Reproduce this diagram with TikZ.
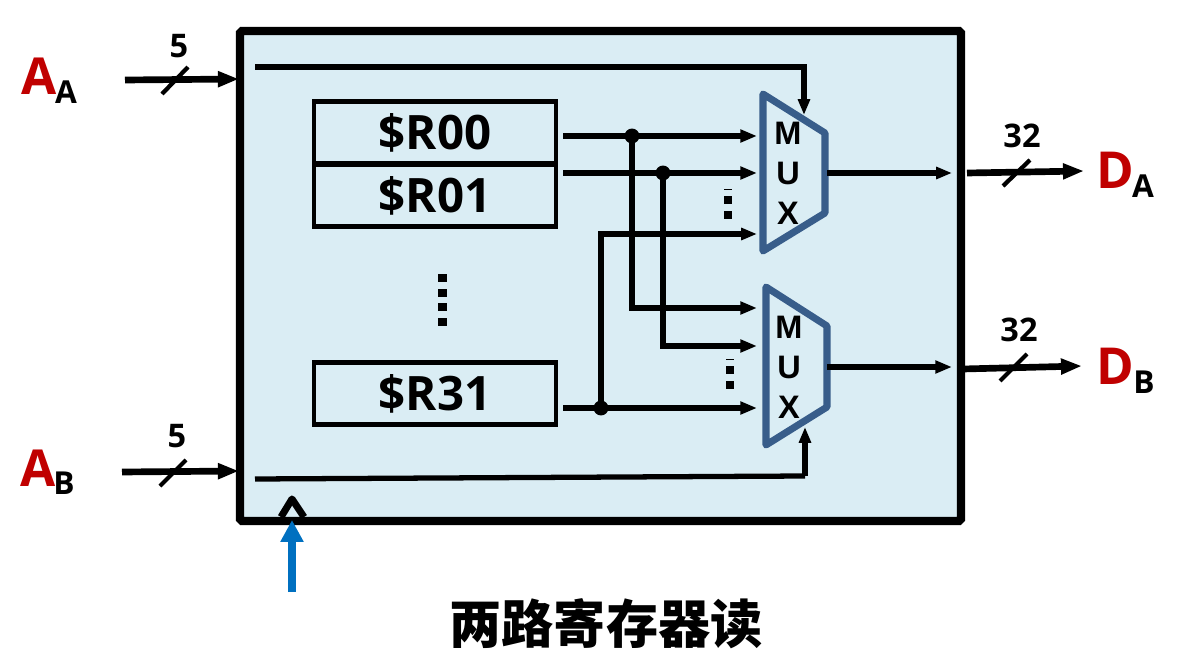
\documentclass[tikz,border=0pt]{standalone}
\usepackage{fontspec}
\setmainfont{Open Sans}
\newfontfamily\muxfont{Liberation Sans}
\newfontfamily\cjk{Noto Sans CJK SC}
\usetikzlibrary{arrows.meta}
\definecolor{regfill}{HTML}{DAEDF4}
\definecolor{muxblue}{HTML}{385D8A}
\definecolor{sigred}{HTML}{C00000}
\definecolor{clkblue}{HTML}{0070C0}
\tikzset{
	wire/.style={line width=3.7pt,-{Triangle[length=9.5pt,width=7pt]}},
	thinwire/.style={line width=3pt,-{Triangle[length=9pt,width=6.6pt]}},
	buswire/.style={line width=3.8pt,-{Triangle[length=12pt,width=8.5pt]}},
	plainwire/.style={line width=3pt},
	slash/.style={line width=2.4pt},
	regbox/.style={draw,line width=2.5pt,minimum width=138pt,minimum height=35.5pt,inner sep=0pt,font=\fontsize{27}{27}\selectfont\bfseries},
	muxshape/.style={draw=muxblue,line width=4pt,line join=round},
	muxtext/.style={font=\muxfont\fontsize{18.5}{18.5}\selectfont\bfseries,inner sep=0pt},
	dot/.style={circle,fill,inner sep=0pt,minimum size=8.5pt},
	buswidth/.style={font=\fontsize{18.5}{18.5}\selectfont\bfseries,inner sep=0pt},
	signame/.style={font=\fontsize{29}{29}\selectfont\bfseries,text=sigred,inner sep=0pt},
	sigsub/.style={font=\fontsize{18}{18}\selectfont\bfseries,inner sep=0pt}
}
\begin{document}
\begin{tikzpicture}[x=0.02cm,y=-0.02cm]
	\useasboundingbox (0,0) rectangle (1178,669);

	% outer block
	\draw[line width=4.6pt,fill=regfill,rounded corners=1pt] (240,31) rectangle (961,521);

	% registers
	\node[regbox] (R00) at (435,132.5) {\$R00};
	\node[regbox] (R01) at (435,195.5) {\$R01};
	\node[regbox] (R31) at (435,393.5) {\$R31};
	\foreach \y in {274.5,289,303.5,318}
		\fill (438,\y) rectangle (447,\y+8);

	% mux
	\draw[muxshape] (763,94) -- (825,133) -- (825,213) -- (763,251) -- cycle;
	\draw[muxshape] (766,287) -- (827,326) -- (827,407) -- (766,445) -- cycle;
	\node[muxtext] (muxAm) at (788,133) {M};
	\node[muxtext] (muxAu) at (788,173) {U};
	\node[muxtext] (muxAx) at (788,213) {X};
	\node[muxtext] (muxBm) at (789,327) {M};
	\node[muxtext] (muxBu) at (789,367) {U};
	\node[muxtext] (muxBx) at (789,407) {X};
	\foreach \x/\yy in {728/0,730/170}{
		\fill (\x-4,196+\yy) rectangle (\x+4,204+\yy);
		\fill (\x-4,211+\yy) rectangle (\x+4,219+\yy);
		\fill (\x-4,189+\yy) rectangle (\x+4,190+\yy);
	}

	% inputs of the muxes
	\coordinate (inA0) at (757,136);
	\coordinate (inA1) at (757,173);
	\coordinate (inA2) at (757,234);
	\coordinate (inB0) at (757,308);
	\coordinate (inB1) at (757,346);
	\coordinate (inB2) at (757,408);
	\coordinate (out00) at (563,136);
	\coordinate (out01) at (563,173);
	\coordinate (out31) at (563,408);
	\node[dot] (j00) at (632,136) {};
	\node[dot] (j01) at (663,173) {};
	\node[dot] (j31) at (601,408) {};

	\draw[wire] (out00) -- (inA0);
	\draw[wire] (out01) -- (inA1);
	\draw[wire] (out31) -- (inB2);
	\draw[thinwire] (j31.center) |- (inA2);
	\draw[wire] (j00.center) |- (inB0);
	\draw[wire] (j01.center) |- (inB1);

	% select lines
	\coordinate (selA) at (255,67);
	\coordinate (selAt) at (804,115);
	\coordinate (selB) at (255,479);
	\coordinate (selBk) at (805,476);
	\coordinate (selBt) at (805,427);
	\draw[thinwire] (selA) -| (selAt);
	\draw[plainwire] (selB) -- (selBk);
	\draw[thinwire] (selBk) -- (selBt);

	% outputs
	\coordinate (outA) at (827,173);
	\coordinate (outAe) at (952,173);
	\coordinate (outB) at (827,367);
	\coordinate (outBe) at (952,367);
	\draw[thinwire] (outA) -- (outAe);
	\draw[wire,line width=3.2pt] (outB) -- (outBe);

	% left side
	\node[signame] (AA) at (39,76) {A};
	\node[sigsub] (AAs) at (66,92) {A};
	\node[signame] (AB) at (38,468) {A};
	\node[sigsub] (ABs) at (64,483) {B};
	\coordinate (inAs) at (125,80);
	\coordinate (inAe) at (239,79);
	\coordinate (inBs) at (122,472);
	\coordinate (inBe) at (239,471);
	\draw[buswire] (inAs) -- (inAe);
	\draw[buswire] (inBs) -- (inBe);
	\draw[slash] (162,94) -- (188,67);
	\draw[slash] (160,486) -- (186,460);
	\node[buswidth] (wA) at (179,46) {5};
	\node[buswidth] (wB) at (177,436) {5};

	% right side
	\node[signame] (DA) at (1115,170) {D};
	\node[sigsub] (DAs) at (1143,186) {A};
	\node[signame] (DB) at (1115,366) {D};
	\node[sigsub] (DBs) at (1144,382) {B};
	\coordinate (dAs) at (967,173);
	\coordinate (dAe) at (1084,171);
	\coordinate (dBs) at (963,369);
	\coordinate (dBe) at (1082,366);
	\draw[buswire] (dAs) -- (dAe);
	\draw[buswire] (dBs) -- (dBe);
	\draw[slash] (1003,186) -- (1030,160);
	\draw[slash] (1000,381) -- (1027,354);
	\node[buswidth] (wDA) at (1022,136) {32};
	\node[buswidth] (wDB) at (1019,330) {32};

	% clock
	\draw[line width=4pt,line join=round] (281,517) -- (292,499) -- (304,517);
	\coordinate (clkS) at (292,592);
	\coordinate (clkE) at (292,520);
	\draw[clkblue,line width=4.5pt,-{Triangle[length=12.5pt,width=12.5pt]}] (clkS) -- (clkE);

	% title
	\node[inner sep=0pt,font=\cjk\fontsize{29.7}{29.7}\selectfont\bfseries] (title) at (606,624) {两路寄存器读};
\end{tikzpicture}
\end{document}
